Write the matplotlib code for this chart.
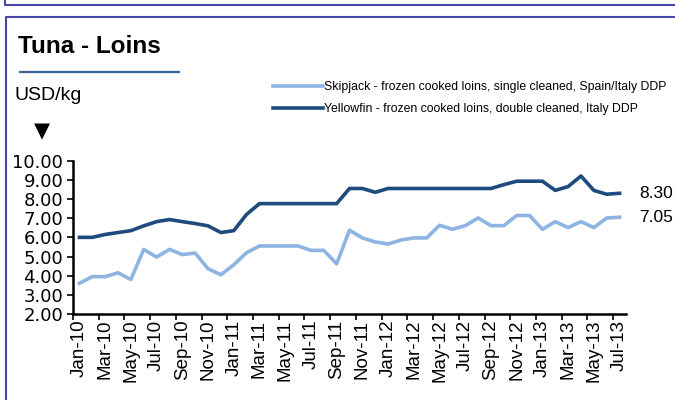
import numpy as np
import matplotlib
matplotlib.use("Agg")
import matplotlib.pyplot as plt
from matplotlib.lines import Line2D

plt.rcParams['font.family'] = ['Liberation Sans', 'DejaVu Sans']

# monthly data, Jan-10 .. Jul-13
months = [f"{m}-{y}" for y in ["10", "11", "12", "13"]
          for m in ["Jan", "Feb", "Mar", "Apr", "May", "Jun",
                    "Jul", "Aug", "Sep", "Oct", "Nov", "Dec"]][:43]

skipjack = [3.60, 3.95, 3.95, 4.15, 3.80, 5.37, 4.97, 5.37, 5.10, 5.18, 4.36, 4.05,
            4.57, 5.20, 5.55, 5.55, 5.55, 5.55, 5.32, 5.32, 4.62, 6.37, 5.97, 5.76,
            5.65, 5.86, 5.97, 5.97, 6.63, 6.42, 6.61, 7.01, 6.61, 6.61, 7.14, 7.14,
            6.42, 6.82, 6.51, 6.82, 6.51, 7.01, 7.05]
yellowfin = [6.00, 6.00, 6.15, 6.25, 6.35, 6.60, 6.82, 6.93, 6.82, 6.72, 6.60, 6.25,
             6.35, 7.20, 7.76, 7.76, 7.76, 7.76, 7.76, 7.76, 7.76, 8.55, 8.55, 8.35,
             8.55, 8.55, 8.55, 8.55, 8.55, 8.55, 8.55, 8.55, 8.55, 8.75, 8.93, 8.93,
             8.93, 8.45, 8.65, 9.20, 8.45, 8.25, 8.30]

skip_label = "Skipjack - frozen cooked loins, single cleaned, Spain/Italy DDP"
yell_label = "Yellowfin - frozen cooked loins, double cleaned, Italy DDP"
light = "#8db4e2"
dark = "#1f4a7e"
frame = "#4848aa"

W, H = 675, 400
fig = plt.figure(figsize=(W / 100, H / 100), dpi=100)

def fx(px):
    return px / W

def fy(py):
    return 1 - py / H

# panel borders
fig.add_artist(Line2D([fx(5), fx(5), 1], [1, fy(5), fy(5)], color=frame, lw=1.5))
fig.add_artist(Line2D([fx(6), fx(6), 1], [0, fy(17), fy(17)], color=frame, lw=1.5))

fig.text(fx(18), fy(53), "Tuna - Loins", fontsize=17.5, fontweight='bold', va='baseline')
fig.add_artist(Line2D([fx(20), fx(179)], [fy(72), fy(72)], color="#3d6496", lw=1.6))
fig.text(fx(15), fy(100), "USD/kg", fontsize=14, va='baseline')
fig.text(fx(42), fy(131), "\u25bc", fontsize=15, ha='center', va='center',
         family=['DejaVu Sans'])

ax = fig.add_axes([fx(73), fy(314), fx(626) - fx(73), (314 - 160.7) / H])
x = np.arange(len(months))
l1, = ax.plot(x, skipjack, color=light, lw=2.6, solid_joinstyle='round')
l2, = ax.plot(x, yellowfin, color=dark, lw=2.6, solid_joinstyle='round')

ax.set_xlim(-0.5, len(months) - 0.5)
ax.set_ylim(2, 10)
ax.set_yticks(np.arange(2, 11, 1))
ax.set_yticklabels([f"{v:.2f}" for v in np.arange(2, 11, 1)], fontsize=13,
                   family=['DejaVu Sans'])

# tick marks between categories, labels at every second month
ax.set_xticks(np.arange(-0.5, len(months), 2))
ax.set_xticklabels([])
ax.set_xticks(x[::2], minor=True)
ax.set_xticklabels(months[::2], minor=True, rotation=90, fontsize=13.5)
ax.tick_params(axis='x', which='minor', length=0, pad=4)
ax.tick_params(axis='x', which='major', length=4, width=1.2, direction='out')
ax.tick_params(axis='y', length=4, width=1.2, direction='out', pad=3)

for s in ['top', 'right']:
    ax.spines[s].set_visible(False)
for s in ['left', 'bottom']:
    ax.spines[s].set_linewidth(1.8)

ax.annotate(f"{yellowfin[-1]:.2f}", xy=(x[-1], yellowfin[-1]), xytext=(14, 0),
            textcoords='offset points', va='center', fontsize=12.5, annotation_clip=False)
ax.annotate(f"{skipjack[-1]:.2f}", xy=(x[-1], skipjack[-1]), xytext=(14, 0),
            textcoords='offset points', va='center', fontsize=12.5, annotation_clip=False)

fig.legend([l1, l2], [skip_label, yell_label], loc='upper left',
           bbox_to_anchor=(fx(273), fy(81)), frameon=False, fontsize=8.8,
           handlelength=4.1, handletextpad=0.1, labelspacing=0.8,
           borderaxespad=0, borderpad=0)

fig.savefig("out.png", dpi=100)
